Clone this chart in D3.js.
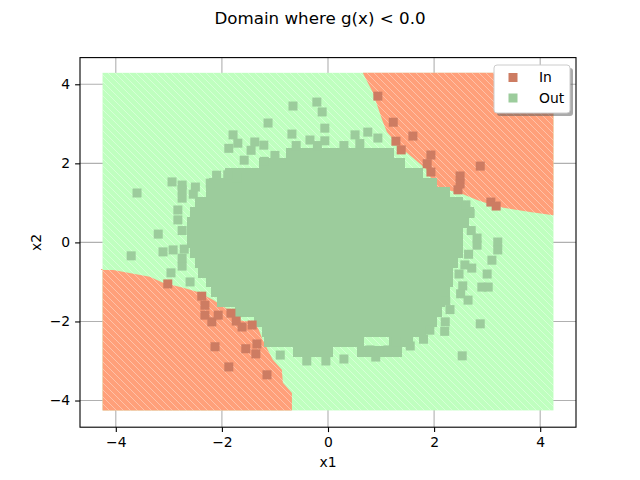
<!DOCTYPE html>
<html><head><meta charset="utf-8">
<script src="https://cdn.jsdelivr.net/npm/d3@7"></script>
<style>body{margin:0;background:#fff} text{font-family:"DejaVu Sans",sans-serif}</style>
</head><body><svg id="c" width="640" height="480"></svg>
<script>
const title = "Domain where g(x) < 0.0";
const xLabel = "x1", yLabel = "x2";
const xTicks = [-4, -2, 0, 2, 4];
const yTicks = [-4, -2, 0, 2, 4];
const axisExtent = [-4.675, 4.675];
const gridExtent = [-4.25, 4.25];
const legendLabels = ["In", "Out"];

// boundary of the upper-right "In" region (x1, x2)
const upperInBoundary = [[0.66,4.28],[0.85,3.78],[1.02,3.10],[1.11,2.79],[1.36,2.41],[1.60,2.14],[1.87,1.83],
  [2.02,1.40],[2.49,1.25],[2.81,1.07],[3.19,0.90],[3.81,0.77],[4.25,0.69]];
// boundary of the lower-left "In" region (x1, x2)
const lowerInBoundary = [[-4.28,-0.67],[-4.05,-0.70],[-3.36,-0.87],[-3.11,-1.02],[-2.73,-1.15],[-2.47,-1.25],
  [-2.17,-1.45],[-1.89,-1.70],[-1.72,-1.96],[-1.47,-2.01],[-1.34,-2.09],[-1.23,-2.47],[-1.04,-2.97],
  [-0.87,-3.22],[-0.85,-3.55],[-0.68,-3.81],[-0.68,-4.25]];

// dense core of the "Out" sample: rows of [x2, x1min, x1max]
const coreBands = [[2.25,-0.8,1.25],[2.0,-1.3,1.45],[1.75,-1.95,1.8],[1.5,-2.25,2.05],[1.25,-2.3,2.3],
  [1.0,-2.5,2.55],[0.75,-2.6,2.75],[0.5,-2.65,2.65],[0.25,-2.65,2.55],[0.0,-2.65,2.55],[-0.25,-2.6,2.55],
  [-0.5,-2.5,2.45],[-0.75,-2.45,2.35],[-1.0,-2.3,2.35],[-1.25,-2.2,2.3],[-1.5,-2.1,2.2],[-1.75,-1.75,2.15],
  [-2.0,-1.4,2.05],[-2.25,-1.25,1.85],[-2.5,-1.2,0.68],[-2.5,1.15,1.6],[-2.75,-0.66,0.1],[-2.75,0.55,1.4]];

// isolated "Out" sample points
const outPoints = [[-0.66,3.45],[-0.21,3.55],[-0.11,3.30],[-1.13,3.02],[-0.68,2.74],[-0.06,2.89],[-1.38,2.54],
  [-1.21,2.46],[-0.34,2.59],[-0.06,2.57],[0.51,2.72],[0.75,2.79],[0.94,2.64],[-1.79,2.72],[-1.70,2.51],
  [-1.87,2.38],[-1.45,2.33],[-1.58,2.08],[-1.89,1.71],[-1.72,1.63],[-2.94,1.53],[-2.75,1.45],[-2.22,1.50],
  [-3.60,1.25],[-2.75,1.33],[-2.75,1.12],[-2.54,1.22],[-2.83,0.82],[-2.83,0.57],[-3.20,0.21],[-3.71,-0.34],
  [-3.11,-0.24],[-2.92,-0.19],[-2.71,-0.17],[-2.96,-0.77],[-2.75,-0.60],[2.81,0.11],[2.81,-0.07],[3.20,0.01],
  [3.20,-0.19],[3.09,-0.45],[3.00,-0.80],[2.90,-1.13],[3.02,-1.13],[2.64,-1.46],[2.22,-1.48],[2.58,-0.57],
  [2.71,-0.65],[2.47,-0.80],[2.54,-1.10],[2.87,-2.06],[2.53,-2.87],[-0.40,-3.00],[-0.04,-3.00],[1.55,-2.62],
  [1.28,-2.52],[0.79,-2.72],[1.13,-2.72],[1.92,-2.22],[2.21,-2.01],[2.68,0.74],[2.60,0.95],
  [-0.6,2.45],[-0.2,2.45],[0.3,2.45],[0.6,2.5],[-1.0,2.2],[-1.2,2.05],[-2.1,1.7],[-2.5,1.4],[-2.75,0.3],
  [-2.75,-0.4],[-2.6,-1.0],[2.7,0.3],[2.65,-0.3],[2.5,-1.3],[2.3,-1.7],[2.2,-2.25],[1.8,-2.45],[0.9,-2.9],
  [0.3,-2.95],[-0.9,-2.85]];

// "In" sample points
const inPoints = [[-3.02,-1.05],[-2.38,-1.36],[-2.32,-1.59],[-2.32,-1.84],[-2.19,-2.01],[-2.07,-1.84],
  [-1.83,-1.79],[-1.73,-1.99],[-1.62,-2.14],[-1.43,-2.09],[-2.13,-2.64],[-1.55,-2.69],[-1.34,-2.57],
  [-1.36,-2.82],[-1.87,-3.15],[-1.15,-3.35],
  [0.94,3.70],[1.23,3.04],[1.28,2.56],[1.38,2.34],[1.60,2.69],[1.94,2.21],[1.87,1.99],[1.94,1.78],
  [2.87,1.93],[2.49,1.68],[2.49,1.48],[2.45,1.33],[3.07,1.02],[3.17,0.92]];

const C = {outBg:"#bfffbf", inBg:"#ffa07a", outPt:"#9ccc9c", inPt:"#cd7c62"};

const svg = d3.select("#c");
const M = {l:80, r:576, t:57.6, b:427.2};
const x = d3.scaleLinear().domain(axisExtent).range([M.l, M.r]);
const y = d3.scaleLinear().domain(axisExtent).range([M.b, M.t]);

// hatch pattern
const defs = svg.append("defs");
const pat = defs.append("pattern").attr("id","hatch").attr("patternUnits","userSpaceOnUse")
  .attr("width",7).attr("height",7);
pat.append("path").attr("d","M-1,-1 L8,8 M-8,-1 L1,8 M6,-1 L15,8").attr("stroke","#fff")
  .attr("stroke-width",0.8).attr("stroke-opacity",0.45);
defs.append("clipPath").attr("id","clip").append("rect")
  .attr("x",M.l).attr("y",M.t).attr("width",M.r-M.l).attr("height",M.b-M.t);

// grid
const g = svg.append("g");
g.selectAll(".gx").data(xTicks).join("line").attr("x1",d=>x(d)).attr("x2",d=>x(d))
  .attr("y1",M.t).attr("y2",M.b).attr("stroke","#b0b0b0").attr("stroke-width",1.1);
g.selectAll(".gy").data(yTicks).join("line").attr("y1",d=>y(d)).attr("y2",d=>y(d))
  .attr("x1",M.l).attr("x2",M.r).attr("stroke","#b0b0b0").attr("stroke-width",1.1);

const plot = svg.append("g").attr("clip-path","url(#clip)");
// background classification
const bgTop = gridExtent[1]+0.04;
plot.append("rect").attr("x",x(gridExtent[0])).attr("y",y(bgTop))
  .attr("width",x(gridExtent[1])-x(gridExtent[0])).attr("height",y(gridExtent[0])-y(bgTop))
  .attr("fill",C.outBg);
const line = d3.line().x(d=>x(d[0])).y(d=>y(d[1]));
const upPoly = [[upperInBoundary[0][0], bgTop], ...upperInBoundary, [gridExtent[1], bgTop]];
const loPoly = [[gridExtent[0], lowerInBoundary[0][1]], ...lowerInBoundary, [gridExtent[0], gridExtent[0]]];
plot.append("path").attr("d", line(upPoly)+"Z").attr("fill",C.inBg);
plot.append("path").attr("d", line(loPoly)+"Z").attr("fill",C.inBg);
plot.append("rect").attr("x",x(gridExtent[0])).attr("y",y(bgTop))
  .attr("width",x(gridExtent[1])-x(gridExtent[0])).attr("height",y(gridExtent[0])-y(bgTop))
  .attr("fill","url(#hatch)");

// sample
const half = 0.14;
plot.append("g").attr("shape-rendering","crispEdges").selectAll("rect").data(coreBands).join("rect")
  .attr("x",d=>x(d[1])).attr("width",d=>x(d[2])-x(d[1]))
  .attr("y",d=>y(d[0]+half)).attr("height",d=>y(d[0]-half)-y(d[0]+half)).attr("fill",C.outPt);
const ms = 9;
plot.selectAll(".op").data(outPoints).join("rect")
  .attr("x",d=>x(d[0])-ms/2).attr("y",d=>y(d[1])-ms/2).attr("width",ms).attr("height",ms).attr("fill",C.outPt);
plot.selectAll(".ip").data(inPoints).join("rect")
  .attr("x",d=>x(d[0])-ms/2).attr("y",d=>y(d[1])-ms/2).attr("width",ms).attr("height",ms).attr("fill",C.inPt);

// axes
const ax = svg.append("g").attr("transform",`translate(0,${M.b})`)
  .call(d3.axisBottom(x).tickValues(xTicks).tickSize(4.9).tickPadding(4.9));
const ay = svg.append("g").attr("transform",`translate(${M.l},0)`)
  .call(d3.axisLeft(y).tickValues(yTicks).tickSize(4.9).tickPadding(4.9));
[ax,ay].forEach(a=>{
  a.select(".domain").remove();
  a.selectAll("line").attr("stroke","#000").attr("stroke-width",1.1);
  a.selectAll("text").attr("font-size",13.9).attr("font-family","DejaVu Sans").attr("fill","#000");
});
svg.append("rect").attr("x",M.l).attr("y",M.t).attr("width",M.r-M.l).attr("height",M.b-M.t)
  .attr("fill","none").attr("stroke","#000").attr("stroke-width",1.1);

svg.append("text").attr("x",(M.l+M.r)/2).attr("y",467).attr("text-anchor","middle")
  .attr("font-size",13.9).text(xLabel);
svg.append("text").attr("transform",`translate(41,${(M.t+M.b)/2}) rotate(-90)`).attr("text-anchor","middle")
  .attr("font-size",13.9).text(yLabel);
svg.append("text").attr("x",320).attr("y",24).attr("text-anchor","middle")
  .attr("font-size",16.7).text(title);

// legend
const lg = svg.append("g");
lg.append("rect").attr("x",497).attr("y",68).attr("width",76).attr("height",48).attr("rx",3)
  .attr("fill","#555").attr("fill-opacity",0.5);
lg.append("rect").attr("x",494).attr("y",65).attr("width",76).attr("height",48).attr("rx",3)
  .attr("fill","#fff").attr("stroke","#ccc").attr("stroke-width",1);
const lc = [C.inPt, C.outPt];
lg.selectAll(".lm").data(legendLabels).join("rect")
  .attr("x",508.5).attr("y",(d,i)=>73+i*20.5).attr("width",ms).attr("height",ms).attr("fill",(d,i)=>lc[i]);
lg.selectAll(".lt").data(legendLabels).join("text")
  .attr("x",539).attr("y",(d,i)=>82+i*20.5).attr("font-size",13.9).text(d=>d);
</script></body></html>
